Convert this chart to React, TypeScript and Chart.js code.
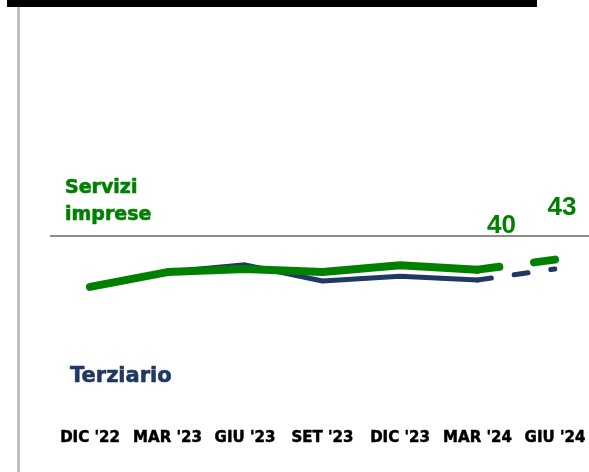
import React, { useEffect, useRef } from "react";
import { Chart, registerables } from "chart.js";

Chart.register(...registerables);

const categories = ["DIC '22", "MAR '23", "GIU '23", "SET '23", "DIC '23", "MAR '24", "GIU '24"];
const serviziImprese = [35.1, 39.4, 40.3, 39.4, 41.4, 40.1, 43.0];
const terziario = [35.1, 39.4, 41.5, 36.8, 38.2, 37.1, 40.3];
const thresholdValue = 50;
const serviziName = ["Servizi", "imprese"];
const terziarioName = "Terziario";
const serviziValueLabels = [{ index: 5, text: "40" }, { index: 6, text: "43" }];

const GREEN = "#008000";
const NAVY = "#1f3864";
const FONT = "'DejaVu Sans', sans-serif";

function boldText(ctx: CanvasRenderingContext2D, text: string, x: number, y: number, w: number) {
  ctx.fillText(text, x, y);
  ctx.lineWidth = w;
  ctx.strokeStyle = ctx.fillStyle as string;
  ctx.lineJoin = "round";
  ctx.strokeText(text, x, y);
}

const decorPlugin = {
  id: "decor",
  beforeDraw(chart: any) {
    const { ctx, scales } = chart;
    ctx.save();
    ctx.fillStyle = "#ffffff";
    ctx.fillRect(0, 0, chart.width, chart.height);
    ctx.fillStyle = "#000000";
    ctx.fillRect(7, 0, 530, 7);
    ctx.strokeStyle = "#b3b3b3";
    ctx.lineWidth = 2.5;
    ctx.beginPath();
    ctx.moveTo(18.5, 7);
    ctx.lineTo(18.5, chart.height);
    ctx.stroke();
    const y50 = Math.round(scales.y.getPixelForValue(thresholdValue));
    ctx.strokeStyle = "#8c8c8c";
    ctx.lineWidth = 2;
    ctx.beginPath();
    ctx.moveTo(50, y50);
    ctx.lineTo(chart.width, y50);
    ctx.stroke();
    ctx.restore();
  },
  afterDatasetsDraw(chart: any) {
    const { ctx } = chart;
    ctx.save();
    ctx.textBaseline = "alphabetic";
    ctx.textAlign = "left";
    ctx.fillStyle = GREEN;
    ctx.font = `bold 19px ${FONT}`;
    boldText(ctx, serviziName[0], 65, 193, 0.6);
    boldText(ctx, serviziName[1], 65, 220, 0.6);
    ctx.fillStyle = NAVY;
    ctx.font = `bold 21px ${FONT}`;
    boldText(ctx, terziarioName, 70, 382, 0.6);

    const meta = chart.getDatasetMeta(0);
    ctx.fillStyle = GREEN;
    ctx.font = "bold 26px 'Liberation Sans', Arial, sans-serif";
    ctx.textAlign = "center";
    ctx.textBaseline = "middle";
    const offsets = [
      { dx: 24, dy: -44 },
      { dx: 7, dy: -52 },
    ];
    serviziValueLabels.forEach((l, i) => {
      const p = meta.data[l.index];
      ctx.fillText(l.text, p.x + offsets[i].dx, p.y + offsets[i].dy);
    });
    ctx.restore();
  },
};

export default function App() {
  const canvasRef = useRef<HTMLCanvasElement | null>(null);

  useEffect(() => {
    if (!canvasRef.current) return;
    const lastIdx = categories.length - 2;
    const chart = new Chart(canvasRef.current, {
      type: "line",
      data: {
        labels: categories,
        datasets: [
          {
            label: "Servizi imprese",
            data: serviziImprese,
            borderColor: GREEN,
            borderWidth: 8,
            borderCapStyle: "round",
            borderJoinStyle: "round",
            pointRadius: 0,
            tension: 0,
            segment: {
              borderDash: (c: any) => (c.p0DataIndex === lastIdx ? [22, 35] : undefined),
            },
          },
          {
            label: "Terziario",
            data: terziario,
            borderColor: NAVY,
            borderWidth: 5,
            borderCapStyle: "round",
            borderJoinStyle: "round",
            pointRadius: 0,
            tension: 0,
            segment: {
              borderDash: (c: any) => (c.p0DataIndex === lastIdx ? [14, 23] : undefined),
            },
          },
        ],
      },
      options: {
        animation: false,
        responsive: true,
        maintainAspectRatio: false,
        layout: { padding: { top: 201, left: 90, right: 34, bottom: 25 } },
        plugins: { legend: { display: false }, tooltip: { enabled: false } },
        scales: {
          x: {
            grid: { display: false, drawTicks: true, tickLength: 21 },
            border: { display: false },
            ticks: {
              color: "#000000",
              font: { family: FONT, weight: "bold", size: 15 },
              textStrokeColor: "#000000",
              textStrokeWidth: 0.5,
              padding: 0,
              maxRotation: 0,
              autoSkip: false,
            },
          },
          y: { display: false, min: 0, max: 60 },
        },
      },
      plugins: [decorPlugin],
    } as any);
    return () => chart.destroy();
  }, []);

  return (
    <div style={{ position: "fixed", left: 0, top: 0, width: 589, height: 472, background: "#fff" }}>
      <canvas ref={canvasRef} />
    </div>
  );
}
